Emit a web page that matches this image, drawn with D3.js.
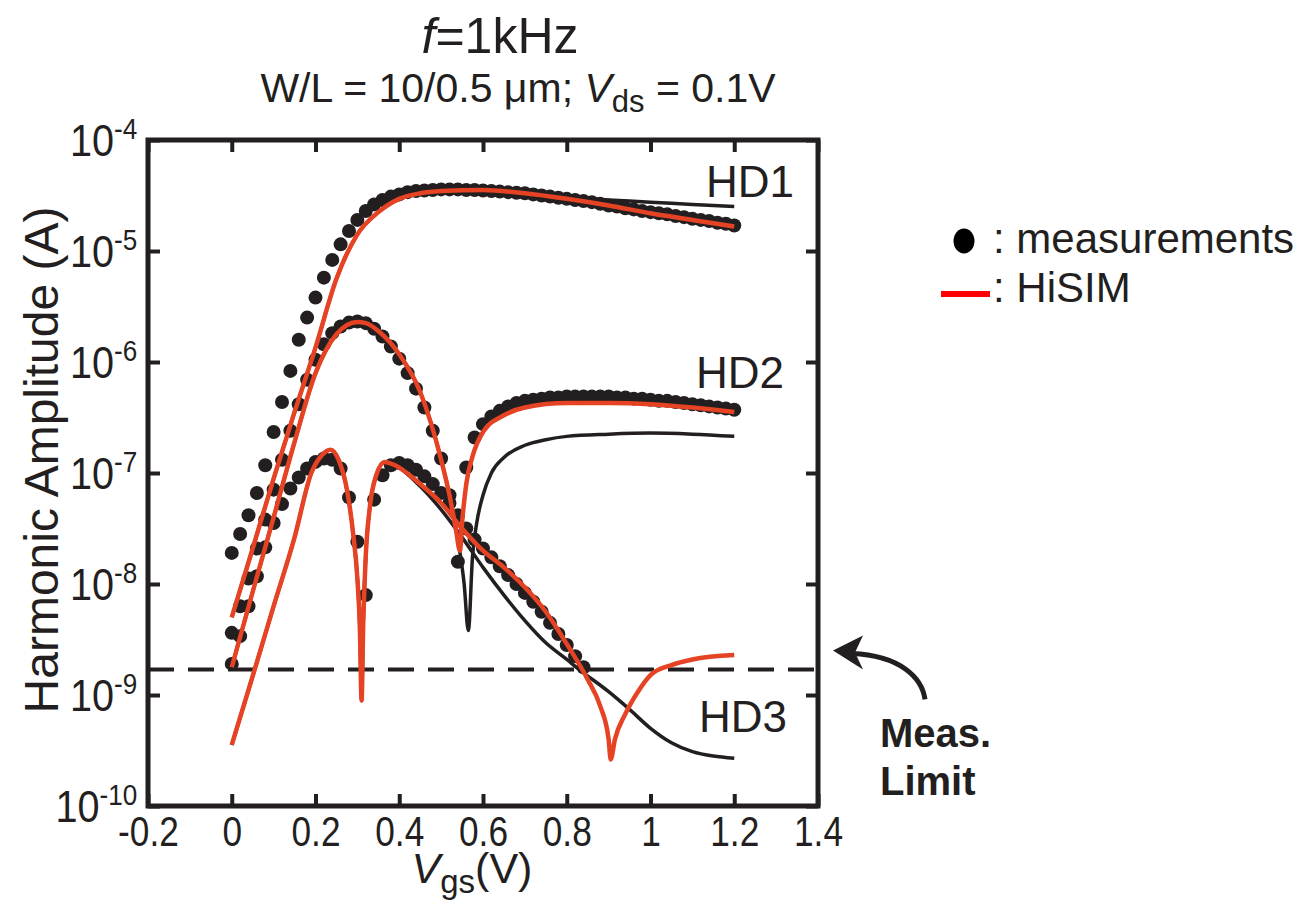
<!DOCTYPE html>
<html lang="en">
<head>
<meta charset="UTF-8">
<title>Harmonic amplitude vs Vgs</title>
<script src="https://d3js.org/d3.v7.min.js"></script>
<style>
  body { margin: 0; background: #fff; }
  text { font-family: "Liberation Sans", Arial, sans-serif; fill: #231f20; }
</style>
</head>
<body>
<div id="chart"></div>
<script>
// measurements, Vgs step 0.02 V, values are log10 of the amplitude in A
var vgsMeas = [0,0.02,0.04,0.06,0.08,0.1,0.12,0.14,0.16,0.18,0.2,0.22,0.24,0.26,0.28,0.3,0.32,0.34,0.36,0.38,0.4,
  0.42,0.44,0.46,0.48,0.5,0.52,0.54,0.56,0.58,0.6,0.62,0.64,0.66,0.68,0.7,0.72,0.74,0.76,0.78,0.8,
  0.82,0.84,0.86,0.88,0.9,0.92,0.94,0.96,0.98,1,1.02,1.04,1.06,1.08,1.1,1.12,1.14,1.16,1.18,1.2];
var hd1Meas = [-7.72,-7.55,-7.38,-7.18,-6.93,-6.63,-6.36,-6.08,-5.8,-5.6,-5.42,-5.24,-5.08,-4.94,-4.82,-4.72,
  -4.64,-4.58,-4.54,-4.51,-4.49,-4.47,-4.46,-4.455,-4.45,-4.445,-4.445,-4.445,-4.45,-4.45,-4.455,-4.46,-4.465,
  -4.47,-4.475,-4.48,-4.49,-4.5,-4.51,-4.52,-4.53,-4.54,-4.55,-4.56,-4.575,-4.59,-4.6,-4.615,-4.625,-4.64,
  -4.65,-4.66,-4.67,-4.685,-4.695,-4.71,-4.72,-4.73,-4.745,-4.755,-4.77];
var hd2Meas = [-8.44,-8.2,-7.95,-7.68,-7.42,-7.15,-6.88,-6.62,-6.38,-6.16,-5.98,-5.84,-5.74,-5.68,-5.645,-5.635,
  -5.65,-5.7,-5.77,-5.86,-5.97,-6.1,-6.24,-6.41,-6.62,-6.87,-7.2,-7.8,-6.95,-6.68,-6.56,-6.49,-6.44,-6.4,
  -6.37,-6.35,-6.34,-6.33,-6.32,-6.32,-6.31,-6.31,-6.31,-6.31,-6.31,-6.31,-6.32,-6.32,-6.33,-6.33,-6.34,
  -6.35,-6.35,-6.36,-6.37,-6.38,-6.39,-6.4,-6.41,-6.42,-6.43];
var hd3Meas = [-8.72,-8.47,-8.2,-7.93,-7.67,-7.45,-7.28,-7.14,-7.04,-6.96,-6.9,-6.87,-6.88,-6.96,-7.22,-7.62,
  -8.1,-7.24,-7.02,-6.93,-6.91,-6.93,-6.97,-7.03,-7.1,-7.18,-7.27,-7.38,-7.5,-7.6,-7.68,-7.76,-7.84,-7.92,
  -8.0,-8.08,-8.16,-8.25,-8.35,-8.45,-8.55,-8.65,-8.75];

// HiSIM (red) and the black simulation curves
var hd1SimV = [0,0.05,0.1,0.15,0.2,0.25,0.3,0.35,0.4,0.45,0.5,0.6,0.7,0.8,0.9,1.0,1.1,1.2];
var hd1Red = [-8.3,-7.68,-7.05,-6.45,-5.87,-5.25,-4.85,-4.65,-4.53,-4.48,-4.46,-4.45,-4.48,-4.53,-4.59,-4.66,-4.72,-4.78];
var hd1Black = [-8.3,-7.68,-7.05,-6.45,-5.87,-5.25,-4.85,-4.65,-4.53,-4.48,-4.46,-4.45,-4.48,-4.52,-4.54,-4.56,-4.58,-4.6];

var hd2RedV = [0,0.05,0.1,0.15,0.2,0.25,0.3,0.32,0.35,0.4,0.45,0.5,0.52,0.535,0.545,0.55,0.56,0.575,0.6,0.65,0.7,0.8,0.9,1.0,1.1,1.2];
var hd2Red = [-8.75,-8.07,-7.4,-6.72,-6.1,-5.75,-5.64,-5.65,-5.72,-5.93,-6.27,-6.88,-7.2,-7.5,-7.7,-7.45,-7.1,-6.85,-6.63,-6.48,-6.41,-6.37,-6.37,-6.38,-6.41,-6.45];
var hd2BlackV = [0,0.05,0.1,0.15,0.2,0.25,0.3,0.32,0.35,0.4,0.45,0.5,0.52,0.54,0.555,0.565,0.575,0.585,0.6,0.62,0.65,0.7,0.75,0.8,0.9,1.0,1.1,1.2];
var hd2Black = [-8.75,-8.07,-7.4,-6.72,-6.1,-5.75,-5.64,-5.65,-5.72,-5.93,-6.27,-6.88,-7.2,-7.6,-8.0,-8.42,-7.75,-7.45,-7.2,-7.0,-6.86,-6.75,-6.7,-6.67,-6.65,-6.64,-6.65,-6.67];

var hd3RedV = [0,0.05,0.1,0.15,0.19,0.215,0.236,0.255,0.275,0.29,0.3,0.306,0.31,0.314,0.32,0.33,0.345,0.365,0.39,0.45,0.5,0.55,0.6,0.65,0.7,0.75,0.8,0.85,0.88,0.9,0.905,0.915,0.94,0.97,1.0,1.05,1.1,1.2];
var hd3Red = [-9.45,-8.83,-8.2,-7.58,-7.0,-6.84,-6.79,-6.88,-7.15,-7.55,-7.95,-8.4,-9.05,-8.35,-7.75,-7.3,-7.02,-6.9,-6.93,-7.1,-7.27,-7.5,-7.7,-7.85,-8.03,-8.25,-8.54,-8.86,-9.1,-9.4,-9.58,-9.4,-9.17,-8.97,-8.82,-8.73,-8.68,-8.64];
var hd3BlackV = [0,0.05,0.1,0.15,0.19,0.215,0.236,0.255,0.275,0.29,0.3,0.306,0.31,0.314,0.32,0.33,0.345,0.365,0.39,0.45,0.5,0.55,0.6,0.65,0.7,0.75,0.8,0.833,0.9,0.95,1.0,1.05,1.1,1.15,1.2];
var hd3Black = [-9.45,-8.83,-8.2,-7.58,-7.0,-6.84,-6.79,-6.88,-7.15,-7.55,-7.95,-8.4,-9.05,-8.35,-7.75,-7.3,-7.02,-6.9,-6.93,-7.12,-7.33,-7.58,-7.85,-8.1,-8.33,-8.53,-8.68,-8.78,-8.97,-9.13,-9.3,-9.43,-9.51,-9.55,-9.57];

var measLimit = 1.7e-9;

var xLabels = [-0.2,0,0.2,0.4,0.6,0.8,1,1.2,1.4];
var yExps = [-10,-9,-8,-7,-6,-5,-4];

var width = 1309, height = 903;
var plotL = 148, plotR = 818, plotT = 140, plotB = 806;
var red = "#e64325", ink = "#231f20";

var svg = d3.select("#chart").append("svg")
    .attr("width", width)
    .attr("height", height);

var x = d3.scaleLinear().domain([-0.2, 1.4]).range([plotL, plotR]);
var y = d3.scaleLog().domain([1e-10, 1e-4]).range([plotB, plotT]);
var yTicks = yExps.map(function(e) { return Math.pow(10, e); });

function pts(vs, es) {
    return vs.map(function(v, i) { return [v, Math.pow(10, es[i])]; });
}

var line = d3.line()
    .x(function(d) { return x(d[0]); })
    .y(function(d) { return y(d[1]); })
    .curve(d3.curveMonotoneX);

// measurement limit
svg.append("line")
    .attr("x1", plotL).attr("x2", plotR)
    .attr("y1", y(measLimit)).attr("y2", y(measLimit))
    .attr("stroke", ink).attr("stroke-width", 4)
    .attr("stroke-dasharray", "26,14");

// dots
var meas = pts(vgsMeas, hd1Meas)
    .concat(pts(vgsMeas, hd2Meas))
    .concat(pts(vgsMeas.slice(0, hd3Meas.length), hd3Meas));
svg.append("g").selectAll("circle")
    .data(meas)
    .enter()
    .append("circle")
    .attr("cx", function(d) { return x(d[0]); })
    .attr("cy", function(d) { return y(d[1]); })
    .attr("r", 7)
    .attr("fill", ink);

// black curves
[pts(hd1SimV, hd1Black), pts(hd2BlackV, hd2Black), pts(hd3BlackV, hd3Black)].forEach(function(s) {
    svg.append("path").attr("d", line(s))
        .attr("fill", "none").attr("stroke", ink).attr("stroke-width", 3.5);
});
// HiSIM curves
[pts(hd1SimV, hd1Red), pts(hd2RedV, hd2Red), pts(hd3RedV, hd3Red)].forEach(function(s) {
    svg.append("path").attr("d", line(s))
        .attr("fill", "none").attr("stroke", red).attr("stroke-width", 4.5)
        .attr("stroke-linejoin", "round");
});

// axes, ticks pointing inwards; labels squeezed a bit like a condensed face
var gx = svg.append("g")
    .attr("transform", "translate(0," + plotB + ")")
    .call(d3.axisBottom(x).tickValues(xLabels).tickSize(-12).tickPadding(10)
        .tickFormat(function(d) { return d; }));
gx.selectAll("text").attr("font-size", 42).attr("transform", "scale(0.84,1)");

svg.append("g")
    .attr("transform", "translate(0," + plotT + ")")
    .call(d3.axisTop(x).tickValues(xLabels).tickSize(-12).tickFormat(""));

var gy = svg.append("g")
    .attr("transform", "translate(" + plotL + ",0)")
    .call(d3.axisLeft(y).tickValues(yTicks).tickSize(-12).tickPadding(11).tickFormat(""));
gy.selectAll(".tick text").each(function(d, i) {
    var t = d3.select(this).attr("dy", "0.35em").attr("font-size", 44)
        .attr("x", -12).attr("transform", "scale(0.9,1)");
    t.append("tspan").text("10");
    t.append("tspan").attr("font-size", 29).attr("dy", -17).text(yExps[i]);
});

svg.append("g")
    .attr("transform", "translate(" + plotR + ",0)")
    .call(d3.axisRight(y).tickValues(yTicks).tickSize(-12).tickFormat(""));

svg.selectAll(".domain").remove();
svg.selectAll(".tick line").attr("stroke", ink).attr("stroke-width", 4);
svg.selectAll(".tick text").attr("fill", ink).attr("font-family", null);

svg.append("rect")
    .attr("x", plotL).attr("y", plotT)
    .attr("width", plotR - plotL).attr("height", plotB - plotT)
    .attr("fill", "none").attr("stroke", ink).attr("stroke-width", 5);

// titles
var t1 = svg.append("text").attr("x", 500).attr("y", 53)
    .attr("text-anchor", "middle").attr("font-size", 50);
t1.append("tspan").attr("font-style", "italic").text("f");
t1.append("tspan").text("=1kHz");

var t2 = svg.append("text").attr("x", 518).attr("y", 102)
    .attr("text-anchor", "middle").attr("font-size", 41);
t2.append("tspan").text("W/L = 10/0.5 μm; ");
t2.append("tspan").attr("font-style", "italic").text("V");
t2.append("tspan").attr("font-size", 31).attr("dy", 10).text("ds");
t2.append("tspan").attr("dy", -10).text(" = 0.1V");

var xt = svg.append("text").attr("x", (plotL + plotR) / 2 - 11).attr("y", 883)
    .attr("text-anchor", "middle").attr("font-size", 43);
xt.append("tspan").attr("font-style", "italic").text("V");
xt.append("tspan").attr("font-size", 33).attr("dy", 10).text("gs");
xt.append("tspan").attr("dy", -10).text("(V)");

svg.append("text")
    .attr("transform", "translate(58,460) rotate(-90)")
    .attr("text-anchor", "middle").attr("font-size", 48)
    .text("Harmonic Amplitude (A)");

// curve labels
svg.append("text").attr("x", 706).attr("y", 197).attr("font-size", 44).text("HD1");
svg.append("text").attr("x", 696).attr("y", 388).attr("font-size", 44).text("HD2");
svg.append("text").attr("x", 699).attr("y", 732).attr("font-size", 44).text("HD3");

// legend
svg.append("ellipse").attr("cx", 964).attr("cy", 241).attr("rx", 10.5).attr("ry", 12.5).attr("fill", "#000");
svg.append("text").attr("x", 993).attr("y", 253).attr("font-size", 42).attr("fill", "#000").text(": measurements");
svg.append("line").attr("x1", 941).attr("x2", 990).attr("y1", 294).attr("y2", 294)
    .attr("stroke", "#ff0000").attr("stroke-width", 6);
svg.append("text").attr("x", 993).attr("y", 302).attr("font-size", 42).attr("fill", "#000").text(": HiSIM");

// measurement limit note
var ly = y(measLimit);
svg.append("path")
    .attr("d", "M925," + (ly + 30) + " C922," + (ly + 8) + " 900," + (ly - 14) + " 852," + (ly - 16))
    .attr("fill", "none").attr("stroke", ink).attr("stroke-width", 5);
svg.append("path")
    .attr("d", "M833," + (ly - 19) + " L863," + (ly - 34) + " L855," + (ly - 17) + " L863," + (ly) + " Z")
    .attr("fill", ink);
svg.append("text").attr("x", 880).attr("y", 747).attr("font-size", 40).attr("font-weight", "bold").text("Meas.");
svg.append("text").attr("x", 880).attr("y", 795).attr("font-size", 40).attr("font-weight", "bold").text("Limit");
</script>
</body>
</html>
